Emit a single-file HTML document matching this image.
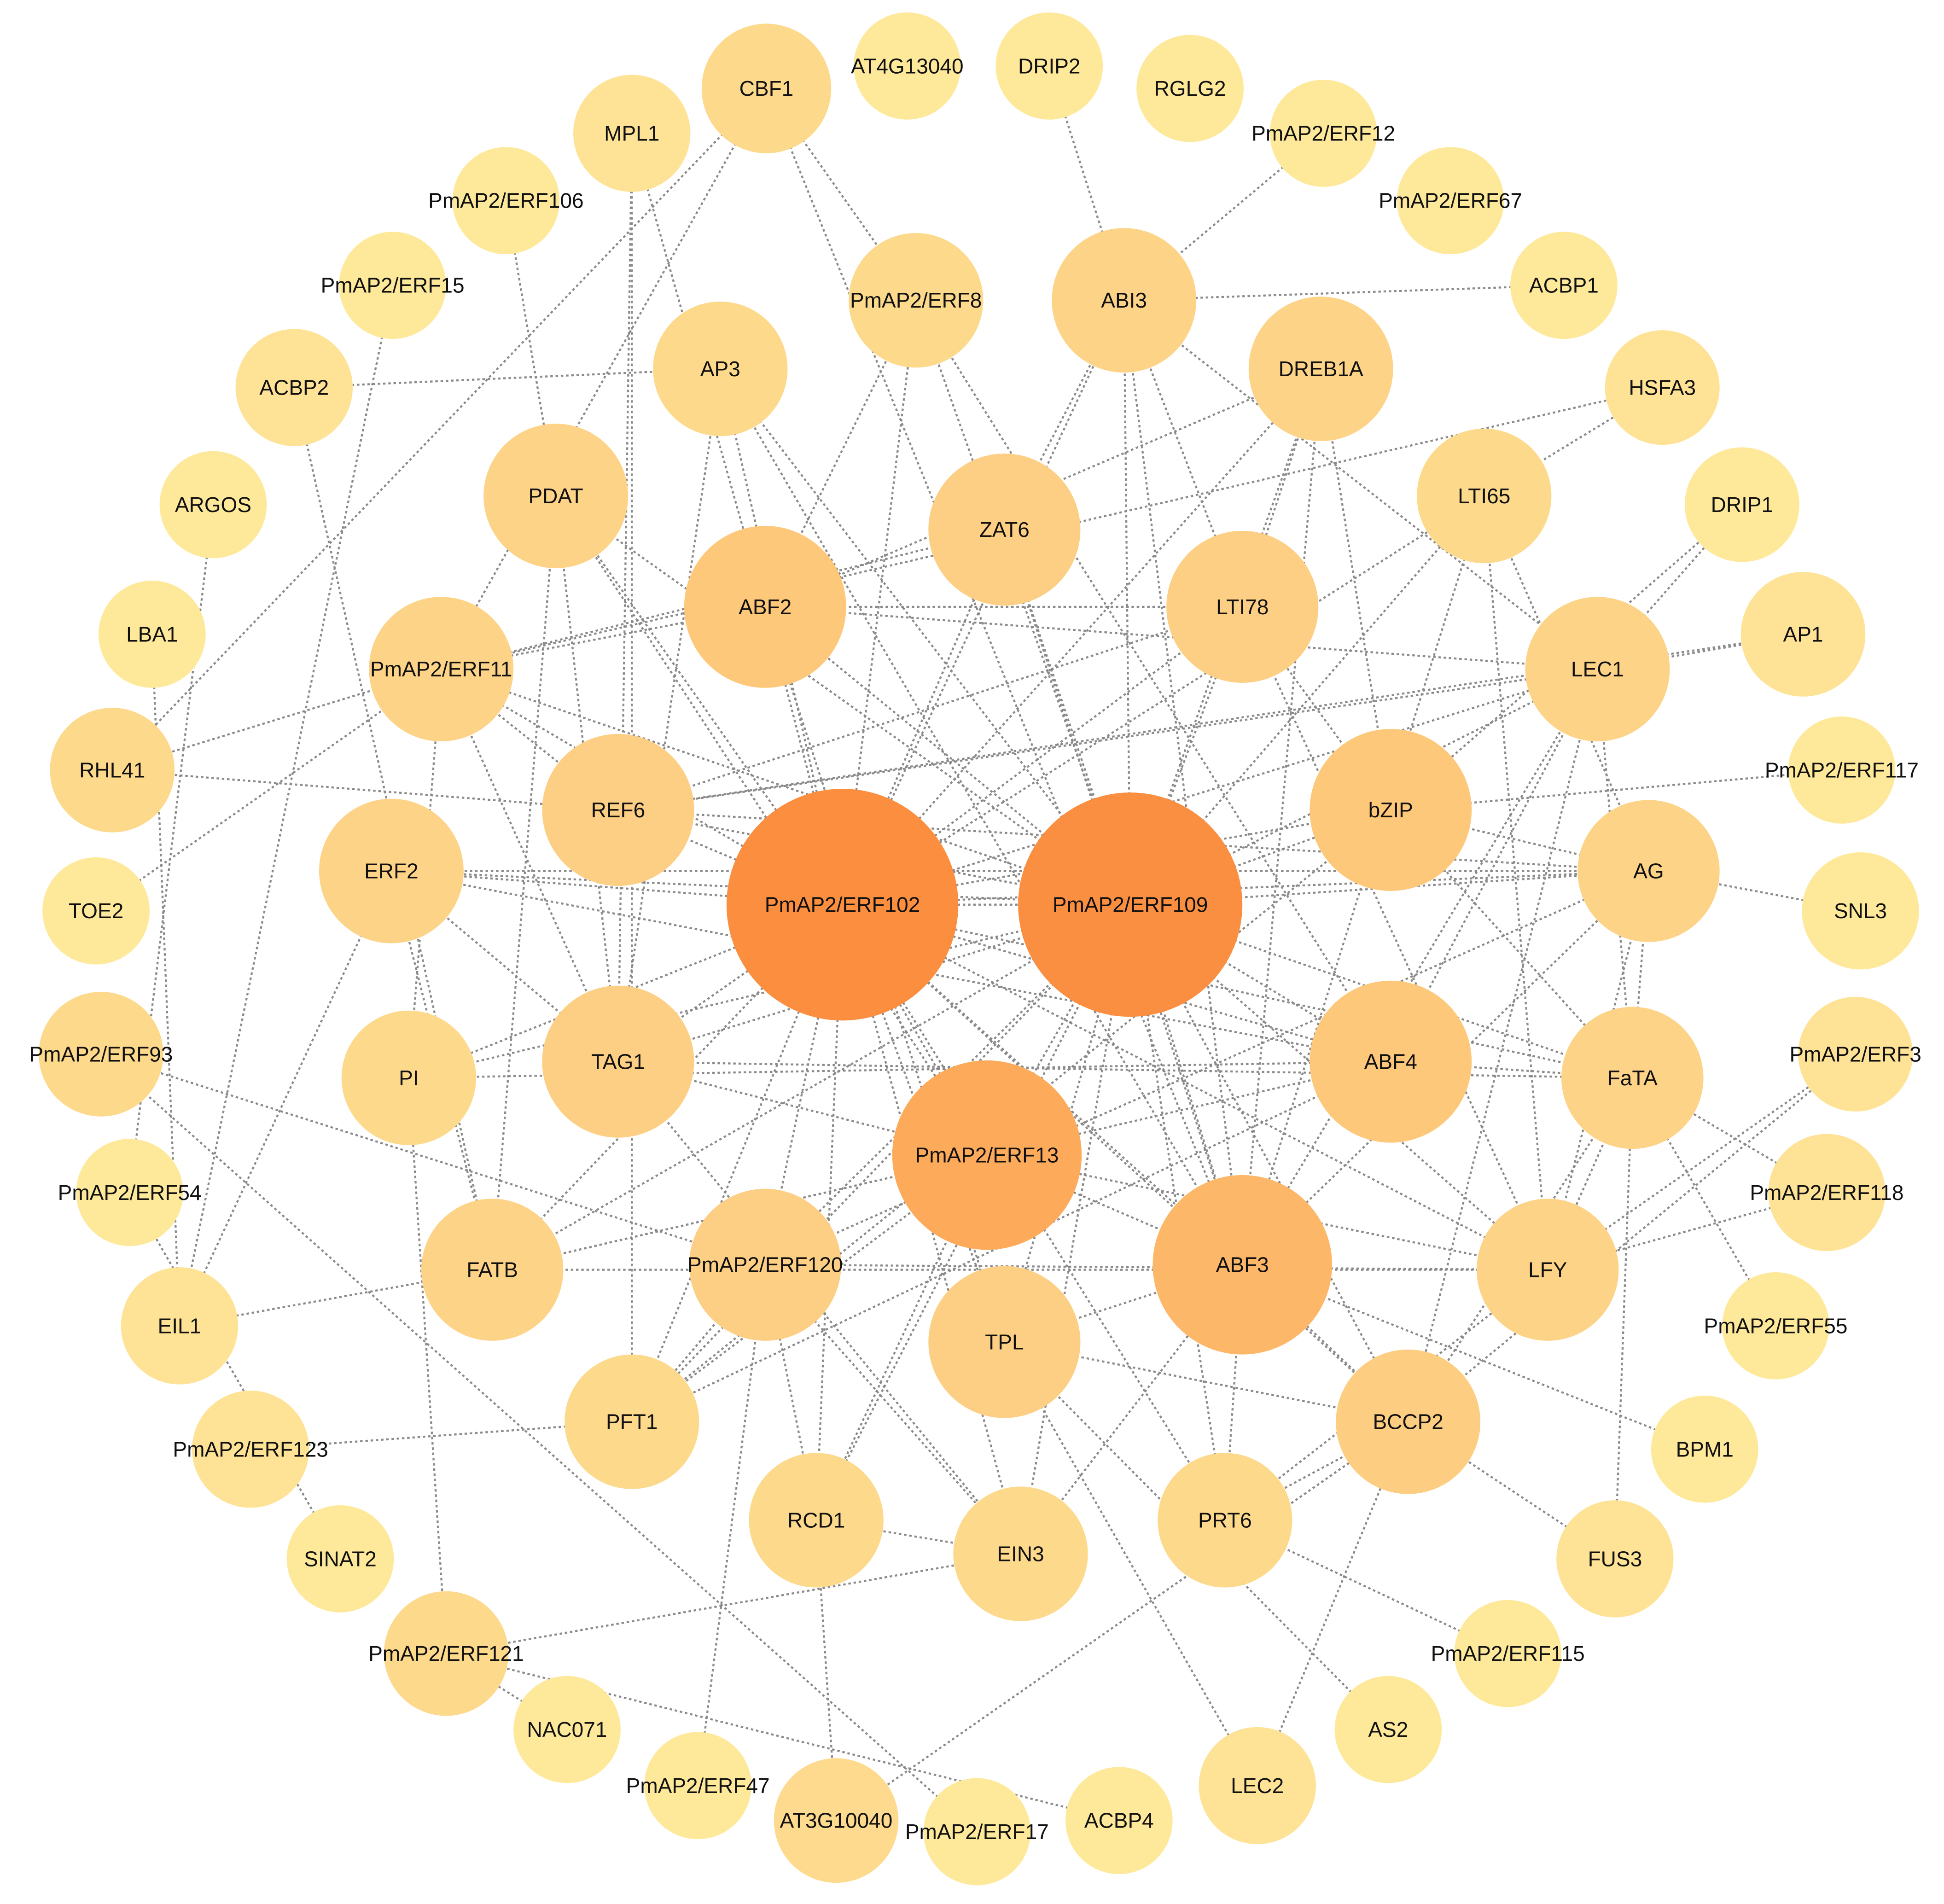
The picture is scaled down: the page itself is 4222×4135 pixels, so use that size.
<!DOCTYPE html>
<html><head><meta charset="utf-8"><style>
html,body{margin:0;padding:0;background:#fff;}
svg{display:block;}
text{font-family:"Liberation Sans",Arial,sans-serif;font-size:17px;fill:#111;text-anchor:middle;dominant-baseline:central;}
</style></head><body>
<svg id="s" width="4222" height="4135" viewBox="0 0 1560 1528" xmlns="http://www.w3.org/2000/svg">
<rect width="1560" height="1528" fill="#fff"/>
<g id="edges" stroke="#8a8a8a" stroke-width="1.6" stroke-dasharray="2 2.2" fill="none"></g>
<g id="nodes"></g>
<g id="labels">
<text x="728" y="53">AT4G13040</text><text x="842" y="53">DRIP2</text><text x="955" y="71">RGLG2</text>
<text x="1062" y="107">PmAP2/ERF12</text><text x="1164" y="161">PmAP2/ERF67</text><text x="1255" y="229">ACBP1</text>
<text x="1334" y="311">HSFA3</text><text x="1398" y="405">DRIP1</text><text x="1447" y="509">AP1</text>
<text x="1478" y="618">PmAP2/ERF117</text><text x="1493" y="731">SNL3</text><text x="1489" y="846">PmAP2/ERF3</text>
<text x="1466" y="957">PmAP2/ERF118</text><text x="1425" y="1064">PmAP2/ERF55</text><text x="1368" y="1163">BPM1</text>
<text x="1296" y="1251">FUS3</text><text x="1210" y="1327">PmAP2/ERF115</text><text x="1114" y="1388">AS2</text>
<text x="1009" y="1433">LEC2</text><text x="898" y="1461">ACBP4</text><text x="784" y="1470">PmAP2/ERF17</text>
<text x="671" y="1461">AT3G10040</text><text x="560" y="1433">PmAP2/ERF47</text><text x="455" y="1388">NAC071</text>
<text x="358" y="1327">PmAP2/ERF121</text><text x="273" y="1251">SINAT2</text><text x="201" y="1163">PmAP2/ERF123</text>
<text x="144" y="1064">EIL1</text><text x="104" y="957">PmAP2/ERF54</text><text x="81" y="846">PmAP2/ERF93</text>
<text x="77" y="731">TOE2</text><text x="90" y="618">RHL41</text><text x="122" y="509">LBA1</text>
<text x="171" y="405">ARGOS</text><text x="236" y="311">ACBP2</text><text x="315" y="229">PmAP2/ERF15</text>
<text x="406" y="161">PmAP2/ERF106</text><text x="507" y="107">MPL1</text><text x="615" y="71">CBF1</text>
<text x="578" y="296">AP3</text><text x="735" y="241">PmAP2/ERF8</text><text x="902" y="241">ABI3</text>
<text x="1060" y="296">DREB1A</text><text x="1191" y="398">LTI65</text><text x="1282" y="537">LEC1</text>
<text x="1323" y="699">AG</text><text x="1310" y="865">FaTA</text><text x="1242" y="1019">LFY</text>
<text x="1130" y="1141">BCCP2</text><text x="983" y="1220">PRT6</text><text x="819" y="1247">EIN3</text>
<text x="655" y="1220">RCD1</text><text x="507" y="1141">PFT1</text><text x="395" y="1019">FATB</text>
<text x="328" y="865">PI</text><text x="314" y="699">ERF2</text><text x="354" y="537">PmAP2/ERF11</text>
<text x="446" y="398">PDAT</text><text x="806" y="425">ZAT6</text><text x="614" y="487">ABF2</text>
<text x="997" y="487">LTI78</text><text x="1116" y="650">bZIP</text><text x="1116" y="852">ABF4</text>
<text x="997" y="1015">ABF3</text><text x="792" y="927">PmAP2/ERF13</text><text x="806" y="1077">TPL</text>
<text x="614" y="1015">PmAP2/ERF120</text><text x="496" y="852">TAG1</text><text x="496" y="650">REF6</text>
<text x="676" y="726">PmAP2/ERF102</text><text x="907" y="726">PmAP2/ERF109</text>
</g>
</svg>
<script>
var N={
AT4G13040:[728,53,43,'#FEE99B'],DRIP2:[842,53,43,'#FEE99B'],RGLG2:[955,71,43,'#FEE99B'],ERF12:[1062,107,43,'#FEE99B'],ERF67:[1164,161,43,'#FEE99B'],ACBP1:[1255,229,43,'#FEE99B'],HSFA3:[1334,311,46,'#FEE397'],DRIP1:[1398,405,46,'#FEE99B'],AP1:[1447,509,50,'#FEE397'],ERF117:[1478,618,43,'#FEE99B'],SNL3:[1493,731,47,'#FEE99B'],ERF3:[1489,846,46,'#FEE397'],ERF118:[1466,957,47,'#FEE397'],ERF55:[1425,1064,43,'#FEE99B'],BPM1:[1368,1163,43,'#FEE99B'],FUS3:[1296,1251,47,'#FEE397'],ERF115:[1210,1327,43,'#FEE99B'],AS2:[1114,1388,43,'#FEE99B'],LEC2:[1009,1433,47,'#FEE397'],ACBP4:[898,1461,43,'#FEE99B'],ERF17:[784,1470,43,'#FEE99B'],AT3G10040:[671,1461,50,'#FDDA8E'],ERF47:[560,1433,43,'#FEE99B'],NAC071:[455,1388,43,'#FEE99B'],ERF121:[358,1327,50,'#FDD98C'],SINAT2:[273,1251,43,'#FEE99B'],ERF123:[201,1163,47,'#FEE397'],EIL1:[144,1064,47,'#FEE397'],ERF54:[104,957,43,'#FEE99B'],ERF93:[81,846,50,'#FDD98C'],TOE2:[77,731,43,'#FEE99B'],RHL41:[90,618,50,'#FDD98C'],LBA1:[122,509,43,'#FEE99B'],ARGOS:[171,405,43,'#FEE99B'],ACBP2:[236,311,47,'#FEE397'],ERF15:[315,229,43,'#FEE99B'],ERF106:[406,161,43,'#FEE99B'],MPL1:[507,107,47,'#FEE397'],CBF1:[615,71,52,'#FDD98C'],
AP3:[578,296,54,'#FDD98C'],ERF8:[735,241,54,'#FDD98C'],ABI3:[902,241,58,'#FDD388'],DREB1A:[1060,296,58,'#FDD388'],LTI65:[1191,398,54,'#FDD98C'],LEC1:[1282,537,58,'#FDD388'],AG:[1323,699,57,'#FDD388'],FaTA:[1310,865,57,'#FDD388'],LFY:[1242,1019,57,'#FDD388'],BCCP2:[1130,1141,58,'#FDCE82'],PRT6:[983,1220,54,'#FDD98C'],EIN3:[819,1247,54,'#FDD98C'],RCD1:[655,1220,54,'#FDD98C'],PFT1:[507,1141,54,'#FDD98C'],FATB:[395,1019,57,'#FDD388'],PI:[328,865,54,'#FDD98C'],ERF2:[314,699,58,'#FDD388'],ERF11:[354,537,58,'#FDD388'],PDAT:[446,398,58,'#FDD388'],ZAT6:[806,425,61,'#FDCF84'],ABF2:[614,487,65,'#FDC87A'],LTI78:[997,487,61,'#FDCF84'],bZIP:[1116,650,65,'#FDC87A'],ABF4:[1116,852,65,'#FDC87A'],ABF3:[997,1015,72,'#FDB768'],ERF13:[792,927,76,'#FDAA5A'],TPL:[806,1077,61,'#FDCF84'],ERF120:[614,1015,61,'#FDCF84'],TAG1:[496,852,61,'#FDCF84'],REF6:[496,650,61,'#FDCF84'],ERF102:[676,726,93,'#FB8E3F'],ERF109:[907,726,90,'#FB8F41']};
var inner=['AP3','ERF8','ABI3','DREB1A','LTI65','LEC1','AG','FaTA','LFY','BCCP2','PRT6','EIN3','RCD1','PFT1','FATB','PI','ERF2','ERF11','PDAT','ZAT6','ABF2','LTI78','bZIP','ABF4','ABF3','ERF13','TPL','ERF120','TAG1','REF6'];
var E=[['ERF102','ERF109']];
inner.forEach(function(n){E.push(['ERF102',n]);E.push(['ERF109',n]);});
var extra='CBF1-ERF8 CBF1-RHL41 CBF1-ERF11 CBF1-ABF3 MPL1-ABF2 MPL1-TAG1 MPL1-PFT1 ACBP2-AP3 ACBP2-FATB ERF106-PDAT ERF15-EIL1 DRIP2-ABI3 ERF12-ABI3 ACBP1-ABI3 HSFA3-LTI65 HSFA3-ERF11 DRIP1-LEC1 DRIP1-bZIP AP1-LEC1 AP1-REF6 ERF117-bZIP SNL3-AG ERF3-LFY ERF3-BCCP2 ERF118-LFY ERF118-FaTA ERF55-FaTA BPM1-ABF3 FUS3-BCCP2 FUS3-FaTA ERF115-PRT6 AS2-TPL LEC2-BCCP2 LEC2-TPL ACBP4-ERF121 ERF17-ERF93 AT3G10040-RCD1 AT3G10040-BCCP2 ERF47-ERF120 NAC071-ERF121 ERF121-PI ERF121-EIN3 SINAT2-ERF54 ERF123-PFT1 EIL1-FATB EIL1-ERF2 ERF93-ERF120 TOE2-ERF11 RHL41-REF6 RHL41-ERF11 LBA1-EIL1 ARGOS-ERF54 ABI3-ZAT6 ABI3-LTI78 ABI3-LEC1 ABI3-ABF3 ABF2-LEC1 ABF2-LTI78 ABF2-ERF11 ZAT6-ERF11 ZAT6-ABF3 AP3-TAG1 AP3-ABF3 ERF8-ABF2 ERF8-ABF4 PDAT-TAG1 PDAT-FATB PDAT-ERF13 REF6-LEC1 REF6-AG REF6-LTI78 ERF2-AG ERF2-ABF4 TAG1-ERF13 TAG1-EIN3 TAG1-FaTA PI-ABF4 PI-ERF11 FATB-ABF4 FATB-ERF13 FATB-LFY PFT1-ABF4 PFT1-bZIP RCD1-ERF13 RCD1-ERF120 EIN3-ERF120 EIN3-ABF3 PRT6-ABF3 PRT6-BCCP2 PRT6-LFY TPL-BCCP2 TPL-ABF3 TPL-ABF2 ERF13-ABF3 ERF13-LFY ABF3-LEC1 ABF3-LTI65 ABF3-BCCP2 ABF3-AG ABF4-FaTA ABF4-LEC1 bZIP-AG bZIP-LTI78 bZIP-FaTA LTI78-LFY LTI65-AG LTI65-LFY DREB1A-ABF3 DREB1A-bZIP DREB1A-LTI78 DREB1A-ABF2 LEC1-FaTA LEC1-BCCP2 AG-FaTA AG-LFY FaTA-LFY FaTA-BCCP2 ERF11-REF6 ERF11-TAG1 ERF120-LFY ERF120-AG ERF120-PFT1 PFT1-ERF13 RCD1-EIN3 ERF2-TAG1 ERF2-FATB'.split(' ');
extra.forEach(function(s){E.push(s.split('-'));});
var ns='http://www.w3.org/2000/svg',eg=document.getElementById('edges'),ng=document.getElementById('nodes');
E.forEach(function(e){var a=N[e[0]],b=N[e[1]];if(!a||!b)return;var l=document.createElementNS(ns,'line');l.setAttribute('x1',a[0]);l.setAttribute('y1',a[1]);l.setAttribute('x2',b[0]);l.setAttribute('y2',b[1]);eg.appendChild(l);});
for(var k in N){var v=N[k],c=document.createElementNS(ns,'circle');c.setAttribute('cx',v[0]);c.setAttribute('cy',v[1]);c.setAttribute('r',v[2]);c.setAttribute('fill',v[3]);ng.appendChild(c);}
</script>
</body></html>
